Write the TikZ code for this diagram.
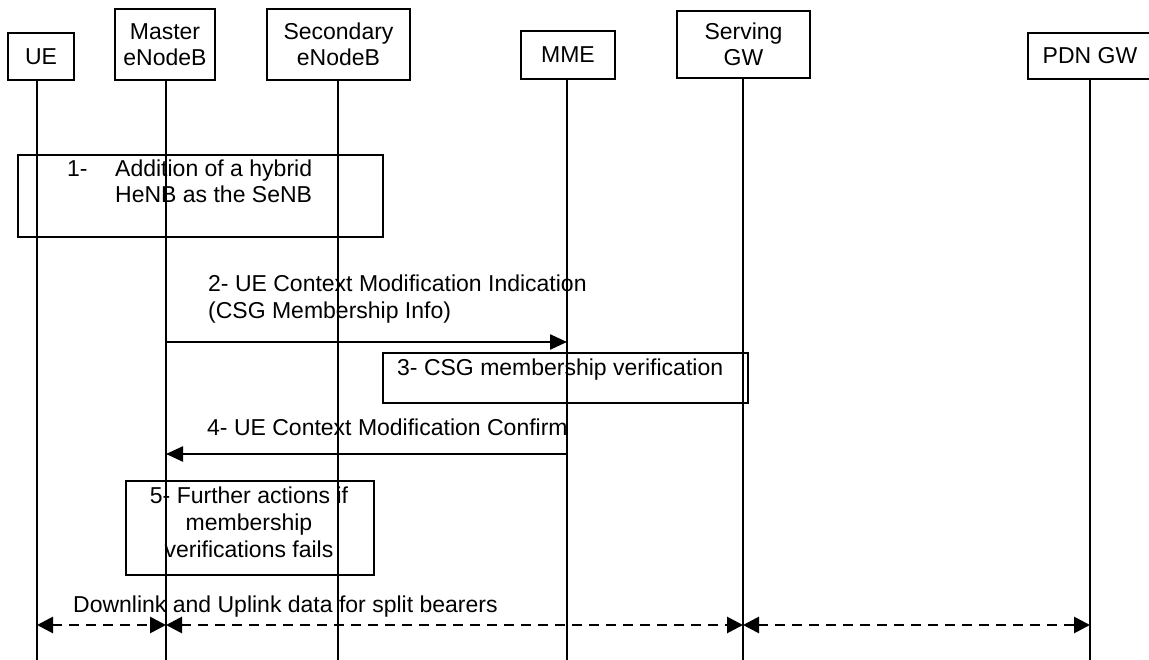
\documentclass[tikz,border=0pt]{standalone}
\usepackage{fontspec}
\setmainfont{Liberation Sans}
\usetikzlibrary{arrows.meta}
\begin{document}
\begin{tikzpicture}[x=1pt,y=-1pt,
  every node/.style={font=\fontsize{23}{26}\selectfont, inner sep=0pt},
  hdr/.style={draw, line width=2pt, align=center},
  actbox/.style={draw, line width=2pt},
  life/.style={line width=1.5pt},
  msg/.style={line width=2.4pt, -{Triangle[length=17pt,width=15pt]}},
  datarrow/.style={line width=2.8pt, dash pattern=on 10pt off 7pt, {Triangle[length=16pt,width=16pt]}-{Triangle[length=16pt,width=16pt]}},
  lbl/.style={anchor=base west},
  clbl/.style={anchor=base}]
\useasboundingbox (0,0) rectangle (1149,660);
% header boxes
\node[hdr, minimum width=66pt, minimum height=47pt] (ue) at (41,56.5) {UE};
\node[hdr, minimum width=100pt, minimum height=71pt] (menb) at (165,44.5) {Master\\eNodeB};
\node[hdr, minimum width=143pt, minimum height=71pt] (senb) at (338.5,44.5) {Secondary\\eNodeB};
\node[hdr, minimum width=94pt, minimum height=48pt] (mme) at (568,55) {MME};
\node[hdr, minimum width=133pt, minimum height=67pt] (sgw) at (743.5,44.5) {Serving\\GW};
\node[hdr, minimum width=124pt, minimum height=46pt] (pgw) at (1090,56) {PDN GW};
% lifelines
\coordinate (ueT) at (37,80);   \coordinate (ueB) at (37,660);
\coordinate (meT) at (166,80);  \coordinate (meB) at (166,660);
\coordinate (seT) at (338,80);  \coordinate (seB) at (338,660);
\coordinate (mmT) at (567,79);  \coordinate (mmB) at (567,660);
\coordinate (sgT) at (743,78);  \coordinate (sgB) at (743,660);
\coordinate (pgT) at (1090,79); \coordinate (pgB) at (1090,660);
\draw[life] (ueT) -- (ueB);
\draw[life] (meT) -- (meB);
\draw[life] (seT) -- (seB);
\draw[life] (mmT) -- (mmB);
\draw[life] (sgT) -- (sgB);
\draw[life] (pgT) -- (pgB);
% step 1
\node[actbox, minimum width=365pt, minimum height=82pt] (b1) at (200.5,196) {};
\node[lbl] (t1n) at (67,177) {1-};
\node[lbl] (t1a) at (115,177) {Addition of a hybrid};
\node[lbl] (t1b) at (115,203) {HeNB as the SeNB};
% step 2
\coordinate (m2) at (166,342); \coordinate (mme2) at (567,342);
\draw[msg] (m2) -- (mme2);
\node[lbl] (t2a) at (208,292) {2- UE Context Modification Indication};
\node[lbl] (t2b) at (208,319) {(CSG Membership Info)};
% step 3
\node[actbox, minimum width=365pt, minimum height=50pt] (b3) at (565.5,378) {};
\node[lbl] (t3) at (397,376) {3- CSG membership verification};
% step 4
\coordinate (mme4) at (567,454); \coordinate (m4) at (166,454);
\draw[msg] (mme4) -- (m4);
\node[lbl] (t4) at (207,435) {4- UE Context Modification Confirm};
% step 5
\node[actbox, minimum width=248pt, minimum height=94pt] (b5) at (250,528) {};
\node[clbl] (t5a) at (249,503) {5- Further actions if};
\node[clbl] (t5b) at (249,530) {membership};
\node[clbl] (t5c) at (249,557) {verifications fails};
% data
\node[lbl] (t6) at (73,612) {Downlink and Uplink data for split bearers};
\coordinate (ue6) at (37,625); \coordinate (me6) at (166,625);
\coordinate (sg6) at (743,625); \coordinate (pg6) at (1090,625);
\draw[datarrow] (ue6) -- (me6);
\draw[datarrow] (me6) -- (sg6);
\draw[datarrow] (sg6) -- (pg6);
\end{tikzpicture}
\end{document}
